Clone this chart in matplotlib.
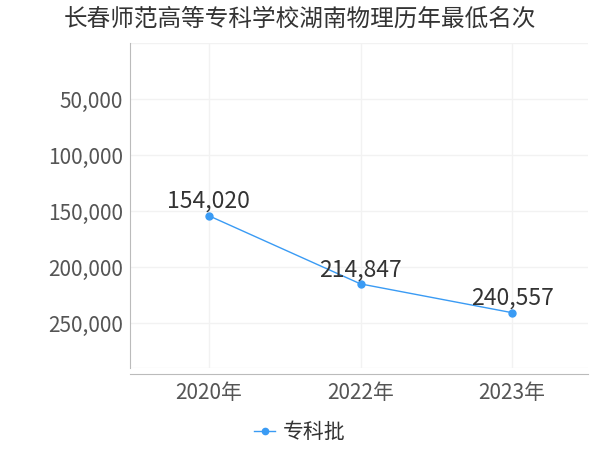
import matplotlib
matplotlib.use("Agg")
import matplotlib.pyplot as plt

plt.rcParams['font.family'] = ['Noto Sans CJK SC', 'DejaVu Sans']

# data
years = ["2020年", "2022年", "2023年"]
ranks = [154020, 214847, 240557]
series_name = "专科批"
title = "长春师范高等专科学校湖南物理历年最低名次"
yticks = [50000, 100000, 150000, 200000, 250000]

c_line = "#3a9bf4"
c_text = "#555555"
c_grid = "#f2f2f2"
c_axis = "#bbbbbb"

fig = plt.figure(figsize=(6, 4.5), dpi=100)
ax = fig.add_axes([0.2167, 0.182, 0.7633, 0.722])

x = list(range(len(years)))
ax.plot(x, ranks, color=c_line, linewidth=1, marker="o", markersize=5,
        label=series_name, zorder=3)
for xi, v in zip(x, ranks):
    ax.annotate(f"{v:,}", (xi, v), xytext=(0, 2), textcoords="offset points",
                ha="center", va="bottom", fontsize=16.5, color="#333333", zorder=4)

ax.set_xlim(-0.52, 2.5)
ax.set_ylim(290000, 0)
ax.set_xticks(x)
ax.set_xticklabels(years)
ax.set_yticks(yticks)
ax.set_yticklabels([f"{t:,}" for t in yticks])
ax.tick_params(axis="both", length=0, labelsize=15, colors=c_text)
ax.tick_params(axis="x", pad=6)
ax.tick_params(axis="y", pad=5)

# light grid
for t in [0] + yticks + [290000]:
    ax.axhline(t, color=c_grid, linewidth=1, zorder=0)
ax.grid(axis="x", color=c_grid, linewidth=1, zorder=0)

for s in ["top", "right"]:
    ax.spines[s].set_visible(False)
ax.spines["left"].set_color(c_axis)
ax.spines["bottom"].set_color(c_axis)
ax.spines["bottom"].set_position(("outward", 4))

fig.text(0.5, 0.958, title, ha="center", va="center", fontsize=17, color="#333333")

ax.legend(loc="center", frameon=False, fontsize=15, labelcolor="#333333",
          handlelength=1.0, handletextpad=0.4, markerscale=0.9)
leg = ax.get_legend()
leg.set_bbox_to_anchor((0.5, 0.04), transform=fig.transFigure)

fig.savefig("out.png", dpi=100, facecolor="white")
